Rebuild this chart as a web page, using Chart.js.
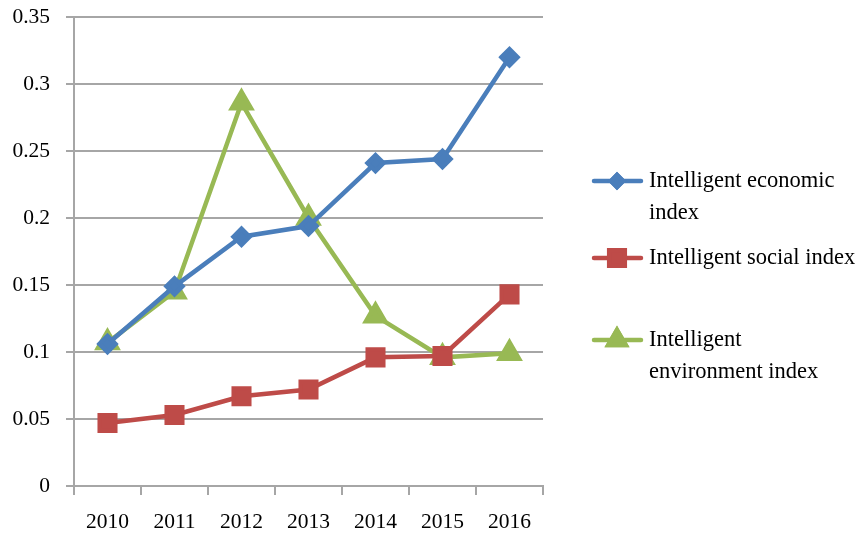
<!DOCTYPE html>
<html>
<head>
<meta charset="utf-8">
<script src="https://cdn.jsdelivr.net/npm/chart.js@4"></script>
<style>
  html, body { margin: 0; padding: 0; background: #fff; }
  #wrap { width: 866px; height: 534px; position: relative; }
</style>
</head>
<body>
<div id="wrap"><canvas id="c" width="866" height="534"></canvas></div>
<script>
const categories = ['2010', '2011', '2012', '2013', '2014', '2015', '2016'];
const economicIndex = [0.106, 0.149, 0.186, 0.194, 0.241, 0.244, 0.320];
const socialIndex = [0.047, 0.053, 0.067, 0.072, 0.096, 0.097, 0.143];
const environmentIndex = [0.107, 0.145, 0.286, 0.200, 0.127, 0.096, 0.099];
const seriesNames = [['Intelligent economic', 'index'], ['Intelligent social index'], ['Intelligent', 'environment index']];
const yTicks = [0, 0.05, 0.1, 0.15, 0.2, 0.25, 0.3, 0.35];

const BLUE = '#4A7EBB', RED = '#BE4B48', GREEN = '#98B954';
const FONT = "'Liberation Serif', 'Times New Roman', serif";
const GRID = '#a6a6a6';

const legendPlugin = {
  id: 'sideLegend',
  afterDraw(chart) {
    const ctx = chart.ctx;
    const items = [
      { ds: 0, y: 181, lines: seriesNames[0], lineGap: 32, r: 6 },
      { ds: 1, y: 258, lines: seriesNames[1], lineGap: 32, r: 11 },
      { ds: 2, y: 340, lines: seriesNames[2], lineGap: 32, r: 10 }
    ];
    items.forEach(it => {
      const d = chart.data.datasets[it.ds];
      ctx.save();
      ctx.strokeStyle = d.borderColor;
      ctx.lineWidth = 4.5;
      ctx.lineCap = 'round';
      ctx.beginPath();
      ctx.moveTo(594, it.y);
      ctx.lineTo(641, it.y);
      ctx.stroke();
      Chart.helpers.drawPoint(ctx, {
        pointStyle: d.pointStyle, radius: it.r, rotation: 0, borderWidth: 1
      }, 617, it.y);
      ctx.fillStyle = d.pointBackgroundColor;
      ctx.strokeStyle = d.pointBorderColor;
      ctx.fill();
      ctx.stroke();
      ctx.fillStyle = '#000';
      ctx.font = '22.5px ' + FONT;
      ctx.textBaseline = 'middle';
      ctx.textAlign = 'left';
      it.lines.forEach((t, i) => ctx.fillText(t, 649, it.y + i * it.lineGap));
      ctx.restore();
    });
  }
};

new Chart(document.getElementById('c'), {
  type: 'line',
  data: {
    labels: categories,
    datasets: [
      { label: seriesNames[0].join(' '), data: economicIndex, borderColor: BLUE, backgroundColor: BLUE,
        pointBackgroundColor: BLUE, pointBorderColor: BLUE, pointStyle: 'rectRot', pointRadius: 8, borderWidth: 4.5 },
      { label: seriesNames[1].join(' '), data: socialIndex, borderColor: RED, backgroundColor: RED,
        pointBackgroundColor: RED, pointBorderColor: RED, pointStyle: 'rect', pointRadius: 11, borderWidth: 4.5 },
      { label: seriesNames[2].join(' '), data: environmentIndex, borderColor: GREEN, backgroundColor: GREEN,
        pointBackgroundColor: GREEN, pointBorderColor: GREEN, pointStyle: 'triangle', pointRadius: 11, borderWidth: 4.5 }
    ]
  },
  options: {
    responsive: false,
    animation: false,
    devicePixelRatio: 1,
    layout: { padding: { top: 17, right: 323, left: 0, bottom: 0 } },
    plugins: { legend: { display: false }, tooltip: { enabled: false } },
    elements: { line: { tension: 0 }, point: { borderWidth: 1 } },
    scales: {
      x: {
        offset: true,
        grid: { display: true, drawOnChartArea: false, drawTicks: true, tickLength: 9, color: GRID, lineWidth: 2, offset: true },
        border: { display: true, color: GRID, width: 2 },
        ticks: { color: '#000', font: { family: FONT, size: 21.5 }, padding: 14, maxRotation: 0 },
        afterFit(s) { s.height = 48; s.paddingLeft = 0; s.paddingRight = 0; }
      },
      y: {
        min: 0, max: 0.35,
        afterBuildTicks(s) { s.ticks = yTicks.map(v => ({ value: v })); },
        grid: { color: GRID, lineWidth: 2, tickLength: 8 },
        border: { display: true, color: GRID, width: 2 },
        ticks: { color: '#000', font: { family: FONT, size: 21.5 }, padding: 16,
          callback: v => String(v) },
        afterFit(s) { s.width = 74; s.paddingTop = 0; s.paddingBottom = 0; }
      }
    }
  },
  plugins: [legendPlugin]
});
</script>
</body>
</html>
